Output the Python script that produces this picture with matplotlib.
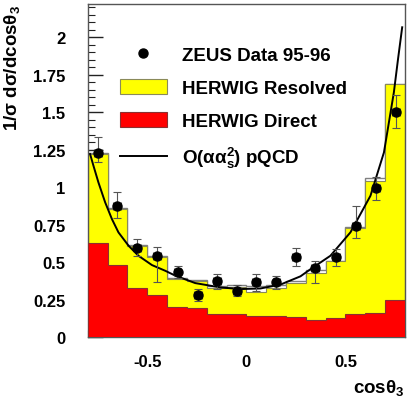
import numpy as np
import matplotlib
matplotlib.use("Agg")
import matplotlib.pyplot as plt
from matplotlib.lines import Line2D
from matplotlib.patches import Patch
from matplotlib.ticker import MultipleLocator, FuncFormatter

plt.rcParams["font.family"] = ["Liberation Sans", "DejaVu Sans"]
plt.rcParams["font.weight"] = "bold"
plt.rcParams["axes.unicode_minus"] = False
plt.rcParams["mathtext.fontset"] = "custom"
plt.rcParams["mathtext.rm"] = "Liberation Sans:bold"
plt.rcParams["mathtext.it"] = "Liberation Sans:bold"
plt.rcParams["mathtext.bf"] = "Liberation Sans:bold"

# ---- data ----
edges = [-0.8, -0.7, -0.6, -0.5, -0.4, -0.3, -0.2, -0.1, 0.0,
         0.1, 0.2, 0.3, 0.4, 0.5, 0.6, 0.7, 0.8]
herwig_total = [1.224, 0.86, 0.615, 0.54, 0.395, 0.38, 0.34, 0.345,
                0.338, 0.347, 0.373, 0.45, 0.51, 0.735, 1.06, 1.69]
herwig_resolved = [1.22, 0.855, 0.61, 0.535, 0.39, 0.375, 0.33, 0.335,
                   0.302, 0.324, 0.36, 0.425, 0.505, 0.73, 1.04, 1.69]
herwig_direct = [0.63, 0.48, 0.325, 0.28, 0.198, 0.195, 0.153, 0.153,
                 0.142, 0.138, 0.131, 0.115, 0.124, 0.151, 0.16, 0.247]

data_x = [-0.749, -0.65, -0.549, -0.451, -0.347, -0.246, -0.148, -0.047,
          0.05, 0.152, 0.251, 0.348, 0.451, 0.554, 0.653, 0.753]
data_y = [1.224, 0.875, 0.591, 0.538, 0.431, 0.28, 0.371, 0.309,
          0.369, 0.364, 0.535, 0.458, 0.533, 0.742, 0.991, 1.502]
err_up = [0.11, 0.09, 0.06, 0.06, 0.045, 0.04, 0.05, 0.035,
          0.05, 0.045, 0.06, 0.05, 0.055, 0.13, 0.075, 0.11]
err_dn = [0.06, 0.08, 0.05, 0.17, 0.035, 0.04, 0.05, 0.035,
          0.06, 0.045, 0.06, 0.10, 0.06, 0.08, 0.08, 0.11]
x_err = 0.02

pqcd_x = [-0.788, -0.771, -0.746, -0.712, -0.678, -0.645, -0.594, -0.544,
          -0.476, -0.409, -0.359, -0.258, -0.131, -0.03, 0.071, 0.172,
          0.273, 0.323, 0.424, 0.525, 0.626, 0.694, 0.744, 0.765, 0.786]
pqcd_y = [1.22, 1.142, 1.031, 0.898, 0.787, 0.698, 0.609, 0.542,
          0.48, 0.442, 0.41, 0.36, 0.331, 0.32, 0.324, 0.35,
          0.405, 0.452, 0.542, 0.698, 0.942, 1.231, 1.631, 1.853, 2.065]

# ---- figure ----
fig = plt.figure(figsize=(4.07, 4.02), dpi=100)
ax = fig.add_axes([0.2155, 0.159, 0.7795, 0.8285])

ax.stairs(herwig_total, edges, baseline=0, fill=True, facecolor="white",
          edgecolor="#808080", lw=1.0, zorder=1)
ax.stairs(herwig_resolved, edges, baseline=0, fill=True, facecolor="#ffff00",
          edgecolor="#8a8a5a", lw=0.8, zorder=2)
ax.stairs(herwig_direct, edges, baseline=0, fill=True, facecolor="#ff0000",
          edgecolor="#8a3030", lw=0.8, zorder=3)

ax.plot(pqcd_x, pqcd_y, color="black", lw=1.4, zorder=4)

ax.errorbar(data_x, data_y, yerr=[err_dn, err_up], xerr=x_err, fmt="none",
            ecolor="#555555", elinewidth=0.8, capsize=3, capthick=0.8,
            zorder=5)
ax.plot(data_x, data_y, "o", color="black", ms=6.5, zorder=6)

ax.set_xlim(-0.8, 0.8)
ax.set_ylim(0, 2.22)
ax.xaxis.set_major_locator(MultipleLocator(0.5))
ax.xaxis.set_minor_locator(MultipleLocator(0.1))
ax.yaxis.set_major_locator(MultipleLocator(0.25))
ax.yaxis.set_minor_locator(MultipleLocator(0.05))
ax.xaxis.set_major_formatter(FuncFormatter(lambda v, p: f"{v:g}"))
ax.yaxis.set_major_formatter(FuncFormatter(lambda v, p: f"{v:g}"))
ax.tick_params(which="both", direction="in", top=False, right=False,
               colors="#222222", labelcolor="black", labelsize=12)
ax.tick_params(which="major", length=11, width=1.0)
ax.tick_params(which="minor", length=5, width=0.8)
ax.tick_params(axis="y", pad=16)
ax.tick_params(axis="x", pad=12)
for sp in ax.spines.values():
    sp.set_color("#555555")
    sp.set_linewidth(1.0)

ax.set_ylabel("1/σ dσ/dcosθ$_3$", fontsize=13.5, fontweight="bold",
              loc="top", labelpad=8)
ax.set_xlabel("cosθ$_3$", fontsize=13.5, fontweight="bold", loc="right",
              labelpad=6)

handles = [
    Line2D([], [], ls="none", marker="o", color="black", ms=6.5),
    Patch(facecolor="#ffff00", edgecolor="#8a8a5a", lw=0.8),
    Patch(facecolor="#ff0000", edgecolor="#8a3030", lw=0.8),
    Line2D([], [], color="black", lw=1.4),
]
labels = ["ZEUS Data 95-96", "HERWIG Resolved", "HERWIG Direct",
          "O(αα$_\\mathrm{s}^\\mathrm{2}$) pQCD"]
ax.legend(handles, labels, loc="upper left",
          bbox_to_anchor=(120 / 407, 1 - 47 / 402),
          bbox_transform=fig.transFigure, frameon=False, borderpad=0,
          borderaxespad=0, prop={"size": 13.5, "weight": "bold"},
          handlelength=2.5, handleheight=0.9, handletextpad=0.78,
          labelspacing=0.78)

fig.savefig("out.png", dpi=100)
